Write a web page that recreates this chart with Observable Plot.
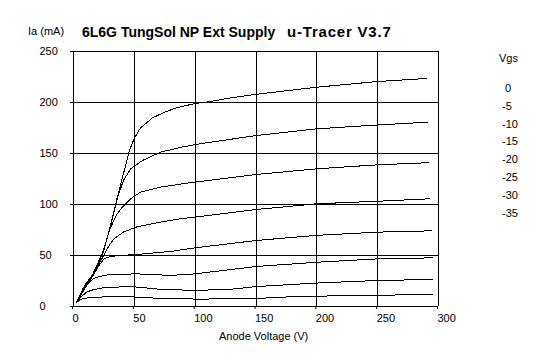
<!DOCTYPE html>
<html>
<head>
<meta charset="utf-8">
<script src="https://cdn.jsdelivr.net/npm/d3@7"></script>
<script src="https://cdn.jsdelivr.net/npm/@observablehq/plot@0.6"></script>
<style>
  html, body { margin: 0; padding: 0; background: #fff; }
  #wrap { position: relative; width: 547px; height: 357px; overflow: hidden; font-family: "Liberation Sans", Arial, sans-serif; color: #000; }
  #wrap svg { position: absolute; left: 0; top: 0; }
  .t { position: absolute; white-space: pre; line-height: 1; }
</style>
</head>
<body>
<div id="wrap"></div>
<script>
// ---- data ----
const vgsLabels = ["0", "-5", "-10", "-15", "-20", "-25", "-30", "-35"];
const xTicks = [0, 50, 100, 150, 200, 250, 300];
const yTicks = [0, 50, 100, 150, 200, 250];

// each curve: [anode voltage (V), anode current (mA)]
const curve0 = [[2.5,4],[10,22],[18,35],[25,55],[30,78],[36,107],[41,130],[46,153],[50,165],[55,175],[65,185],[74,190],[85,195],[100,199],[113,201],[126,204],[150,208],[200,215],[250,220.6],[290,223.5]];
const curve5 = [[2.5,4],[9,20],[17,33],[24,52],[30,77],[36,106],[41,123.5],[47,135],[56.5,143],[71.5,151.3],[88,156],[100,158.8],[150,167.6],[200,174.2],[250,178],[291,180.7]];
const curve10 = [[2.5,4],[8,18],[16,32],[24,53],[30,76],[33,84],[36,91],[40,97.4],[47,105.6],[55,112],[71.5,117],[88,120],[100,122],[150,129.4],[200,135],[250,138.9],[292,141]];
const curve15 = [[2.5,4],[7,14],[14,28],[22,44],[27,55],[30,61],[33,66],[41,73],[52,78],[71.5,82.7],[88,86],[100,87.6],[150,95.1],[200,100.7],[250,103.2],[293,105.6]];
const curve20 = [[2.5,4],[7,14],[13,24],[20,38.5],[25,46.7],[30,49],[38,50],[52,51],[80,54],[100,57.5],[150,64.7],[200,69.8],[250,72.9],[294,74.2]];
const curve25 = [[2.5,4],[6,11],[11,21],[16,27],[20,29],[30,31.4],[52,32],[80,30.5],[100,32],[150,39.2],[200,43.4],[250,46.7],[295,47.7]];
const curve30 = [[2.5,4],[6,9],[10,13.5],[14,15.7],[22,18],[30,19],[50,19.3],[70,17],[100,15.7],[130,17],[150,19.5],[200,23],[250,25.5],[295,26.5]];
const curve35 = [[2.5,4],[7,7.5],[14,9],[30,9.5],[50,9.3],[70,8],[100,7.3],[150,7.5],[165,9],[200,10.1],[250,11.2],[295,11.4]];

const curves = [curve0, curve5, curve10, curve15, curve20, curve25, curve30, curve35];
const rows = curves.flatMap((c, k) => c.map(([v, i]) => ({ vgs: vgsLabels[k], v, i })));

const chart = Plot.plot({
  width: 547,
  height: 357,
  marginLeft: 73,
  marginRight: 109,
  marginTop: 51,
  marginBottom: 51,
  x: { domain: [0, 300] },
  y: { domain: [0, 250] },
  style: { fontFamily: "'Liberation Sans', Arial, sans-serif", fontSize: "11px", color: "#000", background: "#fff" },
  marks: [
    Plot.gridX(xTicks, { stroke: "#000", strokeOpacity: 1, shapeRendering: "crispEdges" }),
    Plot.gridY(yTicks, { stroke: "#000", strokeOpacity: 1, shapeRendering: "crispEdges" }),
    Plot.axisX(xTicks, { tickSize: 3, tickPadding: 5, textAnchor: "start", dx: -1, label: null, tickFormat: d => String(d) }),
    Plot.axisY(yTicks, { tickSize: 3, tickPadding: 31, textAnchor: "start", label: null, tickFormat: d => String(d) }),
    Plot.line(rows, { x: "v", y: "i", z: "vgs", stroke: "#000", strokeWidth: 1, curve: "linear", shapeRendering: "crispEdges" })
  ]
});

const wrap = document.getElementById("wrap");
wrap.appendChild(chart);

function addText(txt, left, top, css) {
  const d = document.createElement("div");
  d.className = "t";
  d.textContent = txt;
  d.style.left = left + "px";
  d.style.top = top + "px";
  Object.assign(d.style, css || {});
  wrap.appendChild(d);
  return d;
}

addText("Ia (mA)", 28, 26, { fontSize: "11px" });
addText("6L6G TungSol NP Ext Supply", 82, 25, { fontSize: "14px", fontWeight: "bold" });
addText("u-Tracer V3.7", 287, 24, { fontSize: "15px", fontWeight: "bold", letterSpacing: "0.8px" });
addText("Anode Voltage (V)", 219, 331, { fontSize: "11px" });
addText("Vgs", 499, 53, { fontSize: "11px" });
vgsLabels.forEach((lab, k) => {
  addText(lab.startsWith("-") ? lab : " " + lab, 502, 83 + k * 17.8, { fontSize: "11px" });
});
</script>
</body>
</html>
